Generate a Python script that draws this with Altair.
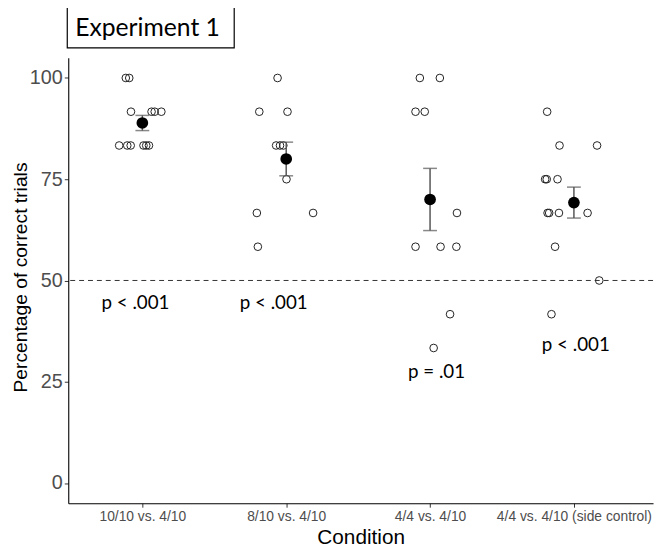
import json
import altair as alt
import pandas as pd

conditions = ["10/10 vs. 4/10", "8/10 vs. 4/10", "4/4 vs. 4/10", "4/4 vs. 4/10 (side control)"]

c1_values = [100, 100, 91.67, 91.67, 91.67, 91.67, 83.33, 83.33, 83.33, 83.33, 83.33, 83.33]
c1_jitter = [-0.115, -0.091, -0.079, 0.064, 0.086, 0.132, -0.161, -0.105, -0.081, 0.008, 0.027, 0.046]

c2_values = [100, 91.67, 91.67, 83.33, 83.33, 83.33, 75, 66.67, 66.67, 58.33]
c2_jitter = [-0.060, -0.187, 0.009, -0.070, -0.043, -0.020, 0.002, -0.204, 0.187, -0.197]

c3_values = [100, 100, 91.67, 91.67, 66.67, 58.33, 58.33, 58.33, 41.67, 33.33]
c3_jitter = [-0.071, 0.068, -0.101, -0.037, 0.187, -0.101, 0.073, 0.183, 0.139, 0.025]

c4_values = [91.67, 83.33, 83.33, 75, 75, 75, 66.67, 66.67, 66.67, 66.67, 58.33, 50, 41.67]
c4_jitter = [-0.186, -0.100, 0.161, -0.200, -0.189, -0.114, -0.183, -0.172, -0.104, 0.095, -0.131, 0.176, -0.156]

p_text = ["p < .001", "p < .001", "p = .01", "p < .001"]
p_x = [0.952, 1.913, 3.045, 4.013]
p_y = [44.5, 44.5, 27.3, 34.1]

chance = [50]
y_ticks = [0, 25, 50, 75, 100]
panel_title = ["Experiment 1"]

rows = []
for i, (vals, jit) in enumerate([(c1_values, c1_jitter), (c2_values, c2_jitter),
                                 (c3_values, c3_jitter), (c4_values, c4_jitter)]):
    for v, j in zip(vals, jit):
        rows.append({"idx": i + 1, "value": v, "jitter": j})
df = pd.DataFrame(rows)
df_p = pd.DataFrame({"label": p_text, "px": p_x, "py": p_y})
df_chance = pd.DataFrame({"y": chance})
df_title = pd.DataFrame({"t": panel_title})

label_expr = json.dumps(conditions) + "[datum.value - 1]"

xscale = alt.Scale(domain=[0.485, 4.55], nice=False, zero=False)
yscale = alt.Scale(domain=[-5, 105], nice=False, zero=False)

xaxis = alt.Axis(values=[1, 2, 3, 4], labelExpr=label_expr, title="Condition",
                 labelFontSize=14, labelPadding=2, titleFontSize=21, titlePadding=4,
                 labelFlush=False, labelOverlap=False)
yaxis = alt.Axis(values=y_ticks, title="Percentage of correct trials",
                 labelFontSize=20, labelPadding=2, titleFontSize=19.5,
                 titleX=-42, titleY=222, titleAngle=270, titleAlign="center",
                 titleBaseline="alphabetic", labelFlush=False)

points = alt.Chart(df).transform_calculate(
    xpos="datum.idx + datum.jitter"
).mark_point(shape="circle", filled=False, size=60, color="#222", strokeWidth=1, opacity=1).encode(
    x=alt.X("xpos:Q", scale=xscale, axis=xaxis),
    y=alt.Y("value:Q", scale=yscale, axis=yaxis),
)

chance_line = alt.Chart(df_chance).mark_rule(strokeDash=[5, 4], color="#333", strokeWidth=1).encode(
    y=alt.Y("y:Q", scale=yscale)
)

base = alt.Chart(df).transform_aggregate(
    mean="mean(value)", se="stderr(value)", groupby=["idx"]
).transform_calculate(lo="datum.mean - datum.se", hi="datum.mean + datum.se")

err_rule = base.mark_rule(color="#555", strokeWidth=1.5).encode(
    x=alt.X("idx:Q", scale=xscale), y=alt.Y("lo:Q", scale=yscale), y2="hi:Q"
)
cap_lo = base.mark_tick(color="#555", thickness=1.5, size=14, orient="horizontal").encode(
    x=alt.X("idx:Q", scale=xscale), y=alt.Y("lo:Q", scale=yscale)
)
cap_hi = base.mark_tick(color="#555", thickness=1.5, size=14, orient="horizontal").encode(
    x=alt.X("idx:Q", scale=xscale), y=alt.Y("hi:Q", scale=yscale)
)
means = base.mark_point(shape="circle", filled=True, size=140, color="black", opacity=1).encode(
    x=alt.X("idx:Q", scale=xscale), y=alt.Y("mean:Q", scale=yscale)
)

ptext = alt.Chart(df_p).mark_text(font="Lato", fontSize=19, color="black",
                                  baseline="middle", align="center").encode(
    x=alt.X("px:Q", scale=xscale), y=alt.Y("py:Q", scale=yscale), text="label:N"
)

box = alt.Chart(df_title).mark_rect(
    fill="white", fillOpacity=0, stroke="black", strokeWidth=1.2
).encode(x=alt.value(-1), x2=alt.value(168), y=alt.value(-52), y2=alt.value(-10))

title_text = alt.Chart(df_title).mark_text(
    font="Lato", fontSize=25, color="black", align="left", baseline="alphabetic"
).encode(x=alt.value(7), y=alt.value(-22), text="t:N")

chart = alt.layer(chance_line, points, err_rule, cap_lo, cap_hi, means, ptext, box, title_text).properties(
    width=592, height=451,
    padding={"left": 61, "top": 47, "right": 3, "bottom": 43},
    autosize=alt.AutoSizeParams(type="none"),
).configure_view(stroke=None).configure_axis(
    grid=False, domainColor="black", domainWidth=1.1, tickColor="#333", tickSize=4,
    labelFont="Liberation Sans", labelColor="#4d4d4d", titleFont="Liberation Sans",
    titleColor="black", titleFontWeight="normal"
)

chart.save("out.html", embed_options={"renderer": "svg", "actions": False})
